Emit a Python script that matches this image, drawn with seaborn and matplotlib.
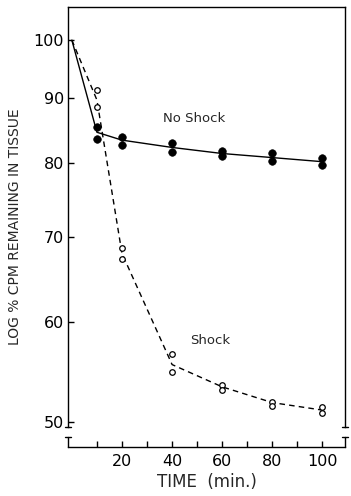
import matplotlib
matplotlib.use("Agg")
import matplotlib.pyplot as plt
import seaborn as sns
import pandas as pd
from matplotlib.ticker import FixedLocator, NullLocator, NullFormatter

# measured points (two animals per time)
no_shock_x = [10, 10, 20, 20, 40, 40, 60, 60, 80, 80, 100, 100]
no_shock_y = [85.4, 83.6, 83.9, 82.7, 83.0, 81.6, 81.8, 81.0, 81.5, 80.3, 80.8, 79.7]
shock_x = [10, 10, 20, 20, 40, 40, 60, 60, 80, 80, 100, 100]
shock_y = [91.3, 88.6, 68.6, 67.2, 56.6, 54.8, 53.5, 53.0, 51.9, 51.5, 51.4, 50.8]

# hand-drawn curves
fit_x = [0, 10, 20, 40, 60, 80, 100]
no_shock_fit = [100, 84.6, 83.4, 82.3, 81.4, 80.8, 80.2]
shock_fit = [100, 89.7, 67.9, 55.5, 53.3, 51.8, 51.1]

y_ticks = [50, 60, 70, 80, 90, 100]
x_ticks = [20, 40, 60, 80, 100]
x_minor = [10, 30, 50, 70, 90]

sns.set_style("white")
plt.rcParams['font.family'] = ['DejaVu Sans']

fig = plt.figure(figsize=(3.51, 4.96), dpi=100)
ax = fig.add_axes([0.194, 0.099, 0.789, 0.887])

pts_ns = pd.DataFrame({'t': no_shock_x, 'v': no_shock_y})
pts_s = pd.DataFrame({'t': shock_x, 'v': shock_y})
fit = pd.DataFrame({'t': fit_x, 'ns': no_shock_fit, 's': shock_fit})

sns.lineplot(data=fit, x='t', y='ns', ax=ax, color='black', lw=1.0)
sns.lineplot(data=fit, x='t', y='s', ax=ax, color='black', lw=1.0,
             linestyle=(0, (4, 3)))
sns.scatterplot(data=pts_ns, x='t', y='v', ax=ax, color='black', s=30,
                edgecolor='black', zorder=3)
sns.scatterplot(data=pts_s, x='t', y='v', ax=ax, facecolor='white', s=16,
                edgecolor='black', linewidth=0.9, zorder=3)

ax.set_yscale('log')
ax.set_ylim(47.8, 106.2)
ax.set_xlim(-1.5, 109)
ax.yaxis.set_major_locator(FixedLocator(y_ticks))
ax.yaxis.set_minor_locator(NullLocator())
ax.yaxis.set_minor_formatter(NullFormatter())
ax.set_yticklabels([str(v) for v in y_ticks])
ax.xaxis.set_major_locator(FixedLocator(x_ticks))
ax.xaxis.set_minor_locator(FixedLocator(x_minor))
ax.tick_params(axis='both', which='both', direction='in', length=4,
               width=1, labelsize=11.5, colors='black', pad=3,
               bottom=True, left=True)
ax.tick_params(axis='x', pad=5)

ax.text(36.3, 86.8, 'No Shock', fontsize=9.5, va='center', ha='left')
ax.text(47, 58.0, 'Shock', fontsize=9.5, va='center', ha='left')

ax.set_xlabel('TIME  (min.)', fontsize=12, labelpad=3)
ax.set_ylabel('LOG % CPM REMAINING IN TISSUE', fontsize=10, labelpad=8)

# axis break on both vertical spines
for side in ['left', 'right', 'top', 'bottom']:
    ax.spines[side].set_color('black')
    ax.spines[side].set_linewidth(1.0)
lo_break = 47.8 * 10 ** (20 / 1272)
hi_break = 47.8 * 10 ** (10 / 1272)
ax.spines['left'].set_bounds(lo_break, 106.2)
ax.spines['right'].set_bounds(lo_break, 106.2)
trans = ax.get_yaxis_transform()
for xpos in [0, 1]:
    ax.plot([xpos, xpos], [47.8, hi_break], color='black', lw=1.0,
            transform=trans, clip_on=False)
    for yb in [lo_break, hi_break]:
        ax.plot([xpos - 0.012, xpos + 0.012], [yb, yb], color='black',
                lw=1.0, transform=trans, clip_on=False)

fig.savefig('out.png', dpi=100)
